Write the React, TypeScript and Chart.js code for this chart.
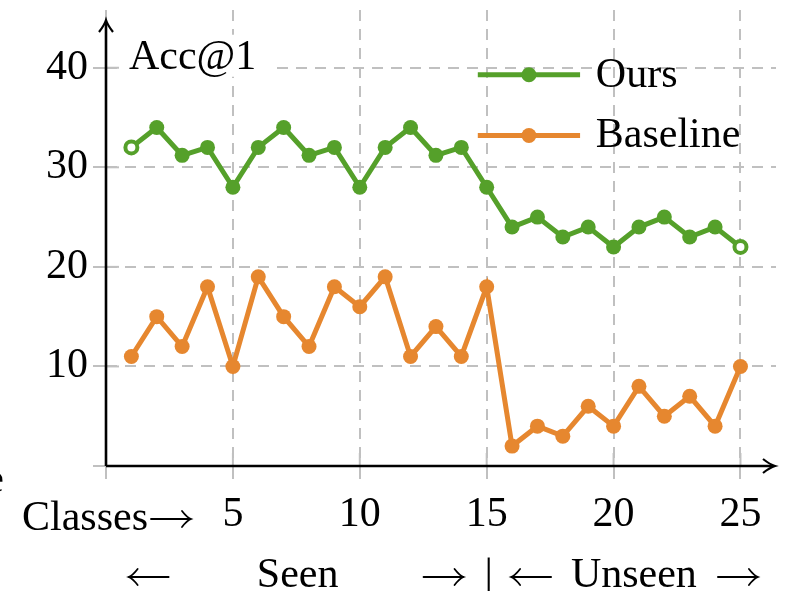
import React, { useEffect, useRef } from "react";
import { Chart, registerables } from "chart.js";

Chart.register(...registerables);

const CLASSES = [1, 2, 3, 4, 5, 6, 7, 8, 9, 10, 11, 12, 13, 14, 15, 16, 17, 18, 19, 20, 21, 22, 23, 24, 25];
const OURS = [32, 34, 31.2, 32, 28, 32, 34, 31.2, 32, 28, 32, 34, 31.2, 32, 28, 24, 25, 23, 24, 22, 24, 25, 23, 24, 22];
const BASELINE = [11, 15, 12, 18, 10, 19, 15, 12, 18, 16, 19, 11, 14, 11, 18, 2, 4, 3, 6, 4, 8, 5, 7, 4, 10];
const X_TICKS = [0, 5, 10, 15, 20, 25];
const Y_TICKS = [0, 10, 20, 30, 40];
const SERIES_NAMES = ["Ours", "Baseline"];
const Y_TITLE = "Acc@1";
const X_TITLE = "Classes";
// second caption row: "←  Seen  → | ← Unseen →" ("<" / ">" = drawn arrows)
const ROW2_TEXT = ["<", "Seen", ">", "|", "<", "Unseen", ">"];
const ROW2_POS = [1.68, 7.55, 13.3, 15.08, 16.75, 20.8, 24.9];

const GREEN = "#55a02a";
const ORANGE = "#e6872f";
const GRID = "#c0c0c0";
const FONT = "'Liberation Serif', 'Times New Roman', serif";
const FS = 42;

function drawArrow(ctx: any, cx: number, cy: number, dir: number) {
  const half = 20;
  const tip = cx + dir * half;
  const tail = cx - dir * half;
  ctx.save();
  ctx.strokeStyle = "#000";
  ctx.lineWidth = 1.8;
  ctx.lineCap = "round";
  ctx.beginPath();
  ctx.moveTo(tail, cy);
  ctx.lineTo(tip, cy);
  ctx.moveTo(tip - dir * 9, cy - 8);
  ctx.quadraticCurveTo(tip - dir * 4, cy - 1.5, tip, cy);
  ctx.quadraticCurveTo(tip - dir * 4, cy + 1.5, tip - dir * 9, cy + 8);
  ctx.stroke();
  ctx.restore();
}

const annotations = {
  id: "annotations",
  afterDraw(chart: any) {
    const { ctx, chartArea } = chart;
    const xs = chart.scales.x;
    const ys = chart.scales.y;
    const x0 = xs.getPixelForValue(0);
    const y0 = ys.getPixelForValue(0);
    ctx.save();
    ctx.strokeStyle = GRID;
    ctx.lineWidth = 2;
    ctx.setLineDash([]);
    X_TICKS.forEach((v) => {
      if (v === 0) return;
      const px = xs.getPixelForValue(v);
      ctx.beginPath();
      ctx.moveTo(px, y0);
      ctx.lineTo(px, y0 - 13);
      ctx.stroke();
    });
    Y_TICKS.forEach((v) => {
      if (v === 0) return;
      const py = ys.getPixelForValue(v);
      ctx.beginPath();
      ctx.moveTo(x0, py);
      ctx.lineTo(x0 + 13, py);
      ctx.stroke();
    });
    // axes
    ctx.strokeStyle = "#000";
    ctx.fillStyle = "#000";
    ctx.lineWidth = 2.6;
    const xEnd = chartArea.right - 1;
    const yTop = chartArea.top + 10;
    ctx.beginPath();
    ctx.moveTo(x0, y0);
    ctx.lineTo(xEnd - 2, y0);
    ctx.moveTo(x0, y0);
    ctx.lineTo(x0, yTop + 2);
    ctx.stroke();
    ctx.lineWidth = 2.2;
    ctx.beginPath();
    ctx.moveTo(xEnd - 12, y0 - 7);
    ctx.quadraticCurveTo(xEnd - 5, y0 - 1.5, xEnd, y0);
    ctx.quadraticCurveTo(xEnd - 5, y0 + 1.5, xEnd - 12, y0 + 7);
    ctx.stroke();
    ctx.beginPath();
    ctx.moveTo(x0 - 7, yTop + 12);
    ctx.quadraticCurveTo(x0 - 1.5, yTop + 5, x0, yTop);
    ctx.quadraticCurveTo(x0 + 1.5, yTop + 5, x0 + 7, yTop + 12);
    ctx.stroke();

    ctx.font = `${FS}px ${FONT}`;
    // y title with white box
    const tx = x0 + 23;
    const tBase = ys.getPixelForValue(40) + 1;
    const tw = ctx.measureText(Y_TITLE).width;
    ctx.fillStyle = "#fff";
    ctx.fillRect(tx - 8, tBase - 34, tw + 22, 42);
    ctx.fillStyle = "#000";
    ctx.textAlign = "left";
    ctx.textBaseline = "alphabetic";
    ctx.fillText(Y_TITLE, tx, tBase);

    // legend
    const legendRows = [
      { name: SERIES_NAMES[0], color: GREEN, y: ys.getPixelForValue(39.3) },
      { name: SERIES_NAMES[1], color: ORANGE, y: ys.getPixelForValue(33.2) },
    ];
    const lx1 = xs.getPixelForValue(14.65);
    const lx2 = xs.getPixelForValue(18.68);
    const ltx = xs.getPixelForValue(19.3);
    legendRows.forEach((r) => {
      ctx.strokeStyle = r.color;
      ctx.fillStyle = r.color;
      ctx.lineWidth = 5;
      ctx.beginPath();
      ctx.moveTo(lx1, r.y);
      ctx.lineTo(lx2, r.y);
      ctx.stroke();
      ctx.beginPath();
      ctx.arc((lx1 + lx2) / 2, r.y, 7.5, 0, Math.PI * 2);
      ctx.fill();
      ctx.fillStyle = "#000";
      ctx.textBaseline = "middle";
      ctx.fillText(r.name, ltx, r.y + 1);
    });

    // x title row
    ctx.textBaseline = "alphabetic";
    const row1 = y0 + 64;
    ctx.textAlign = "right";
    ctx.fillText(X_TITLE, 148, row1);
    drawArrow(ctx, 171, y0 + 53, 1);
    // second row
    const row2 = y0 + 121;
    ctx.textAlign = "center";
    ROW2_TEXT.forEach((t, i) => {
      const px = xs.getPixelForValue(ROW2_POS[i]);
      if (t === "<") drawArrow(ctx, px, y0 + 111, -1);
      else if (t === ">") drawArrow(ctx, px, y0 + 111, 1);
      else ctx.fillText(t, px, row2);
    });
    ctx.textAlign = "right";
    ctx.fillText("e", 4, y0 + 26);
    ctx.restore();
  },
};

export default function App() {
  const ref = useRef<HTMLCanvasElement>(null);
  useEffect(() => {
    document.body.style.margin = "0";
    const n = CLASSES.length;
    const isEnd = (c: any) => c.dataIndex === 0 || c.dataIndex === n - 1;
    const chart = new Chart(ref.current!, {
      type: "line",
      data: {
        datasets: [
          {
            label: SERIES_NAMES[0],
            data: CLASSES.map((c, i) => ({ x: c, y: OURS[i] })),
            borderColor: GREEN,
            borderWidth: 5,
            pointBackgroundColor: ((c: any) => (isEnd(c) ? "#fff" : GREEN)) as any,
            pointBorderColor: GREEN,
            pointBorderWidth: ((c: any) => (isEnd(c) ? 4 : 0)) as any,
            pointRadius: ((c: any) => (isEnd(c) ? 6 : 7.5)) as any,
            tension: 0,
          },
          {
            label: SERIES_NAMES[1],
            data: CLASSES.map((c, i) => ({ x: c, y: BASELINE[i] })),
            borderColor: ORANGE,
            borderWidth: 5,
            pointBackgroundColor: ORANGE,
            pointBorderWidth: 0,
            pointRadius: 7.5,
            tension: 0,
          },
        ],
      },
      options: {
        animation: false,
        responsive: false,
        layout: { padding: { top: 8, right: 0, left: 0, bottom: 0 } },
        plugins: { legend: { display: false }, tooltip: { enabled: false } },
        scales: {
          x: {
            type: "linear",
            min: 0,
            max: 26.4,
            afterBuildTicks: (s: any) => {
              s.ticks = X_TICKS.map((v) => ({ value: v }));
            },
            afterFit: (s: any) => {
              s.height = 125;
              s.paddingLeft = 0;
              s.paddingRight = 0;
            },
            ticks: {
              callback: (v: any) => (v === 0 ? "" : String(v)),
              font: { family: FONT, size: FS },
              color: "#000",
              padding: 11,
              maxRotation: 0,
              autoSkip: false,
            },
            grid: {
              color: GRID,
              lineWidth: 2,
              tickLength: 13,
              tickColor: GRID,
              tickWidth: 2,
              tickBorderDash: [],
            },
            border: { display: false, dash: [11, 8] },
          },
          y: {
            type: "linear",
            min: 0,
            max: 45.8,
            afterBuildTicks: (s: any) => {
              s.ticks = Y_TICKS.map((v) => ({ value: v }));
            },
            afterFit: (s: any) => {
              s.width = 106;
              s.paddingTop = 0;
              s.paddingBottom = 0;
            },
            ticks: {
              callback: (v: any) => (v === 0 ? "" : String(v)),
              font: { family: FONT, size: FS },
              color: "#000",
              padding: 5,
              autoSkip: false,
            },
            grid: {
              color: GRID,
              lineWidth: 2,
              tickLength: 13,
              tickColor: GRID,
              tickWidth: 2,
              tickBorderDash: [],
            },
            border: { display: false, dash: [11, 8] },
          },
        },
      },
      plugins: [annotations],
    });
    return () => chart.destroy();
  }, []);
  return (
    <div style={{ width: 786, height: 591, overflow: "hidden", background: "#fff" }}>
      <canvas ref={ref} width={786} height={591} style={{ display: "block" }} />
    </div>
  );
}
